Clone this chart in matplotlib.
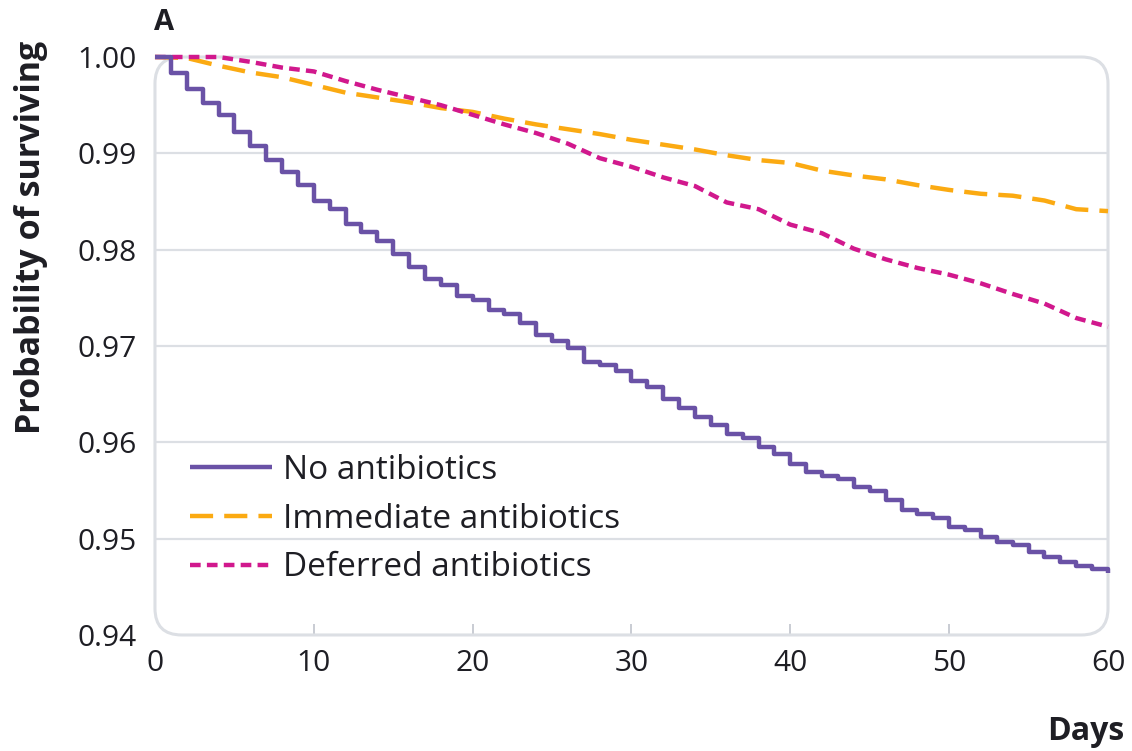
import matplotlib.pyplot as plt
from matplotlib.patches import FancyBboxPatch

plt.rcParams['font.family'] = ['Open Sans', 'DejaVu Sans']

# Kaplan-Meier style survival
days_no = list(range(0, 61))
surv_no = [1.0000, 0.9983, 0.9967, 0.9952, 0.9940, 0.9922, 0.9908, 0.9893, 0.9881, 0.9867,
           0.9851, 0.9842, 0.9827, 0.9818, 0.9809, 0.9796, 0.9782, 0.9770, 0.9763, 0.9752,
           0.9748, 0.9737, 0.9733, 0.9724, 0.9711, 0.9705, 0.9698, 0.9683, 0.9680, 0.9674,
           0.9664, 0.9657, 0.9645, 0.9636, 0.9626, 0.9618, 0.9609, 0.9604, 0.9595, 0.9588,
           0.9578, 0.9569, 0.9565, 0.9562, 0.9554, 0.9549, 0.9540, 0.9530, 0.9526, 0.9521,
           0.9512, 0.9509, 0.9502, 0.9497, 0.9493, 0.9486, 0.9481, 0.9476, 0.9472, 0.9469,
           0.9464]

days_sm = [0, 2, 4, 6, 8, 10, 12, 14, 16, 18, 20, 22, 24, 26, 28, 30,
           32, 34, 36, 38, 40, 42, 44, 46, 48, 50, 52, 54, 56, 58, 60]
surv_imm = [1.0000, 0.9999, 0.9991, 0.9984, 0.9979, 0.9971, 0.9963, 0.9958, 0.9953, 0.9947,
            0.9943, 0.9936, 0.9930, 0.9925, 0.9920, 0.9914, 0.9909, 0.9904, 0.9898, 0.9893,
            0.9890, 0.9882, 0.9877, 0.9873, 0.9867, 0.9862, 0.9858, 0.9856, 0.9851, 0.9842,
            0.9840]
surv_def = [1.0000, 1.0000, 1.0000, 0.9995, 0.9989, 0.9985, 0.9975, 0.9966, 0.9958, 0.9950,
            0.9940, 0.9930, 0.9921, 0.9910, 0.9895, 0.9886, 0.9875, 0.9866, 0.9849, 0.9842,
            0.9826, 0.9817, 0.9801, 0.9790, 0.9781, 0.9774, 0.9765, 0.9754, 0.9744, 0.9729,
            0.9720]

x_ticks = [0, 10, 20, 30, 40, 50, 60]
y_ticks = [0.94, 0.95, 0.96, 0.97, 0.98, 0.99, 1.00]
y_labels = ['0.94', '0.95', '0.96', '0.97', '0.98', '0.99', '1.00']

purple = '#6A52A6'
orange = '#FBAA12'
magenta = '#D1188D'
grid_col = '#DCDFE4'
text_col = '#1E1E24'

fig = plt.figure(figsize=(11.32, 7.51), dpi=100)
ax = fig.add_axes([0.1369, 0.1545, 0.8419, 0.7696])

for s in ax.spines.values():
    s.set_visible(False)

# rounded frame round the plot area
box = FancyBboxPatch((0, 0), 1, 1, boxstyle="round,pad=0,rounding_size=0.028",
                     mutation_aspect=953 / 578, transform=ax.transAxes,
                     facecolor='none', edgecolor=grid_col, linewidth=2.2,
                     clip_on=False, zorder=1)
ax.add_patch(box)

ax.plot(days_no, surv_no, drawstyle='steps-post', color=purple, lw=3.2,
        label='No antibiotics', clip_on=False, zorder=4, solid_capstyle='butt')
ax.plot(days_sm, surv_imm, color=orange, lw=3.2, dashes=(5.2, 2.5),
        label='Immediate antibiotics', clip_on=False, zorder=3)
ax.plot(days_sm, surv_def, color=magenta, lw=3.2, dashes=(2.4, 1.4),
        label='Deferred antibiotics', clip_on=False, zorder=3)

ax.set_xlim(0, 60)
ax.set_ylim(0.94, 1.00)
ax.set_xticks(x_ticks)
ax.set_yticks(y_ticks)
ax.set_yticklabels(y_labels)

ax.yaxis.grid(True, color=grid_col, lw=1.6)
ax.set_axisbelow(True)
ax.yaxis.get_major_ticks()[0].gridline.set_visible(False)
ax.yaxis.get_major_ticks()[-1].gridline.set_visible(False)

ax.tick_params(axis='y', length=0, pad=13, labelsize=21.5, labelcolor=text_col)
ax.tick_params(axis='x', direction='in', length=8, width=1.4, color='#C9CCD3',
               pad=10, labelsize=21.5, labelcolor=text_col)
xt = ax.xaxis.get_major_ticks()
xt[0].tick1line.set_visible(False)
xt[-1].tick1line.set_visible(False)

leg = ax.legend(loc='upper left', bbox_to_anchor=(0.0367, 0.313), frameon=False,
                fontsize=24, handlelength=2.45, handletextpad=0.33,
                labelspacing=0.47, borderpad=0, borderaxespad=0)
for t in leg.get_texts():
    t.set_color(text_col)

fig.text(0.027, 0.684, 'Probability of surviving', rotation=90, ha='center',
         va='center', fontsize=24.5, fontweight='bold', color=text_col)
fig.text(0.993, 0.026, 'Days', ha='right', va='center', fontsize=23,
         fontweight='bold', color=text_col)
fig.text(0.136, 0.970, 'A', ha='left', va='center', fontsize=21,
         fontweight='bold', color=text_col)

fig.savefig('out.png', dpi=100)
